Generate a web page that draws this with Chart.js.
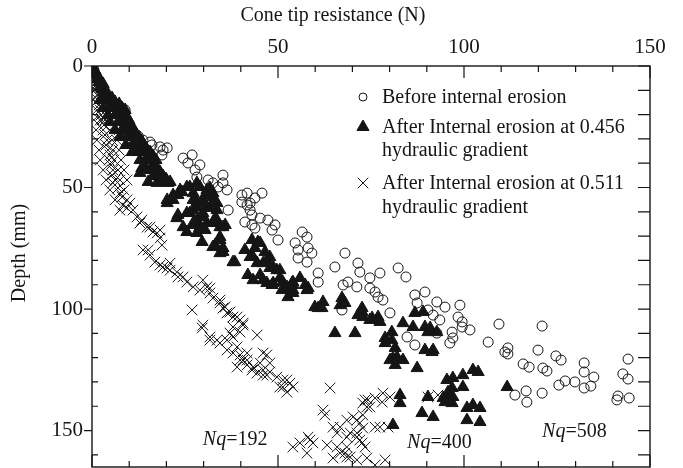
<!DOCTYPE html>
<html>
<head>
<meta charset="utf-8">
<script src="https://cdn.jsdelivr.net/npm/chart.js@4/dist/chart.umd.min.js"></script>
<style>
html,body{margin:0;padding:0;background:#fff;}
#c{display:block;}
</style>
</head>
<body>
<canvas id="c" width="683" height="468"></canvas>
<script>
// ---------- data (x = cone tip resistance N, y = depth mm) ----------
const beforeX = [0.5,1.1,1.9,2.7,3.8,4.8,6.2,7.5,8.9,9.4,10.8,12.4,13.7,15.6,16.1,18.3,19.1,18.8,20.2,24.5,26.9,25.8,27.7,29.0,28.2,31.2,32.5,35.2,33.9,35.2,36.3,40.3,41.7,45.7,40.3,42.5,43.8,36.6,41.7,42.5,41.1,43.0,45.2,43.0,43.8,47.3,49.2,48.4,50.0,56.5,57.8,54.6,55.4,58.1,59.1,55.4,57.8,68.0,65.3,71.5,72.0,60.8,60.8,67.5,68.8,71.2,74.7,77.4,74.7,76.1,76.9,78.2,67.2,80.1,82.3,84.4,86.8,89.5,87.4,90.3,92.7,94.9,91.7,93.5,98.9,98.4,99.5,99.5,101.6,92.7,96.8,97.0,96.2,84.7,86.8,106.5,109.4,111.8,111.0,111.8,121.0,119.9,115.9,117.5,121.2,122.3,124.7,126.1,132.3,132.3,134.9,129.8,127.2,125.5,132.3,134.1,116.7,113.7,116.9,121.0,142.7,144.1,144.1,141.4,141.1,144.4];
const beforeY = [1.6,3.7,6.6,9.9,12.3,14.0,15.6,16.9,18.1,24.3,26.3,28.8,30.5,31.3,32.5,33.3,34.6,36.6,33.7,37.9,36.6,39.9,42.8,40.7,45.7,46.9,48.1,44.9,49.8,48.1,51.0,53.1,52.3,52.3,56.0,56.4,54.3,59.3,57.2,59.3,64.2,61.3,62.6,65.4,66.7,63.4,65.4,67.5,71.6,68.3,70.4,72.8,75.7,74.9,77.0,79.0,80.7,77.0,82.7,81.1,84.8,85.2,88.9,90.1,88.9,90.9,87.2,85.2,91.4,93.0,95.1,96.3,100.4,101.6,83.1,86.8,94.2,93.0,97.5,100.4,97.1,99.2,102.5,104.5,98.4,103.3,105.3,107.4,108.6,109.9,109.5,111.9,114.0,111.5,114.8,113.6,106.2,116.0,117.7,118.5,107.0,116.9,122.6,123.9,124.3,125.5,119.3,121.0,122.2,125.9,128.0,130.0,129.6,131.3,132.5,131.7,133.7,135.4,138.3,134.6,126.7,128.8,120.6,135.8,137.4,136.6];

const grad456X = [0.3,0.5,0.8,1.1,1.3,1.9,2.2,2.7,3.2,3.5,4.0,4.6,5.1,5.6,6.5,7.0,7.5,8.1,8.6,9.1,9.7,10.2,10.8,11.3,11.8,12.6,13.4,14.2,15.1,15.9,16.7,17.5,18.3,19.1,19.9,21.0,1.9,3.0,4.3,5.4,6.2,7.3,8.1,8.9,9.4,9.9,10.5,11.0,9.7,11.8,12.6,12.1,13.7,14.5,15.6,16.4,17.2,13.4,12.9,15.6,18.3,20.4,15.1,17.5,20.2,23.1,21.8,20.2,21.8,20.2,25.5,24.2,26.3,28.2,29.0,30.9,32.5,29.8,23.7,27.2,31.7,32.5,33.6,29.8,28.2,27.2,29.8,25.5,24.5,27.2,29.0,30.9,33.1,35.8,34.4,33.1,35.2,34.4,38.4,41.1,43.0,44.6,43.8,43.3,46.5,47.8,46.0,41.9,45.2,47.8,49.7,50.5,54.0,55.9,57.3,58.1,48.7,47.0,23.1,27.2,30.4,26.3,28.2,25.5,28.2,30.4,33.6,35.2,29.6,32.5,34.4,35.2,37.9,31.7,22.8,27.2,28.2,30.9,32.5,33.6,29.8,32.5,34.4,45.2,42.5,44.4,47.0,48.7,43.3,46.0,48.4,51.1,52.4,54.0,52.7,54.0,57.8,59.9,60.8,50.5,51.3,53.8,54.0,62.1,61.8,67.2,66.7,68.0,72.6,72.8,74.7,76.9,77.4,80.6,83.6,86.3,86.8,89.0,89.5,90.3,65.3,70.7,92.7,72.6,71.5,75.3,78.8,80.6,78.8,81.5,80.9,90.9,91.4,87.4,82.8,82.8,95.4,97.0,99.7,102.4,103.8,99.7,95.7,97.0,94.4,90.3,88.7,91.7,80.9,100.8,102.4,104.3,100.8,104.3,111.6,80.1,82.0,83.6,81.5,89.5,91.7,96.8,96.2,96.8,94.9,4.3,6.2,4.8,7.0,6.2,8.1,7.5,9.4,9.1,10.8,10.8,12.4,12.9,14.5,14.5,16.1,16.4,17.7,3.0,4.8,2.2,3.5];
const grad456Y = [0.4,1.6,2.9,4.1,5.3,6.6,8.2,9.5,10.7,11.9,13.2,14.0,15.2,16.5,17.3,18.5,19.8,21.0,22.2,23.5,24.7,26.3,27.6,29.2,30.5,31.7,33.7,35.4,37.0,38.7,40.3,42.0,43.6,45.3,46.5,47.7,4.9,7.4,11.5,13.2,14.8,15.6,17.3,18.1,21.0,22.2,24.3,25.5,26.7,28.0,29.2,32.5,31.7,33.7,35.4,37.0,38.7,42.0,44.0,42.8,45.7,48.1,47.7,48.1,47.7,53.1,55.1,56.4,53.1,55.1,49.8,51.9,49.8,48.1,49.8,51.0,52.3,55.1,51.0,52.3,50.2,53.9,56.4,56.4,56.0,59.3,60.5,60.5,66.3,64.6,66.3,64.6,62.6,65.4,70.4,73.7,74.9,77.0,80.7,75.7,71.6,72.4,74.9,78.6,76.5,78.6,81.1,86.0,86.0,83.1,84.0,87.2,90.1,87.2,90.1,91.4,89.3,89.3,61.3,55.1,53.1,60.5,63.4,68.3,68.7,67.5,63.4,66.3,72.4,74.5,71.6,76.5,80.7,58.4,62.6,65.4,58.0,58.0,56.4,59.3,62.1,64.6,66.3,72.8,78.6,81.1,79.8,82.7,88.1,88.1,90.1,92.2,90.9,88.9,95.1,93.4,92.2,99.2,99.6,84.0,88.9,89.3,92.2,97.1,99.6,95.5,98.4,97.5,99.6,103.3,104.5,103.3,105.3,109.5,105.8,107.4,101.6,101.2,107.4,109.5,109.9,109.9,109.5,101.2,102.5,103.7,111.9,112.8,114.0,116.0,120.2,107.8,117.7,124.3,135.4,138.7,129.2,128.4,127.2,125.1,125.9,132.1,134.2,136.2,136.6,136.2,142.8,144.4,147.7,140.7,139.5,140.7,145.7,146.5,132.1,121.0,119.8,121.0,123.0,116.9,116.9,132.5,136.2,138.7,138.3,20.2,20.2,23.0,23.0,26.3,26.3,29.2,29.2,32.5,32.5,35.4,35.4,38.7,38.7,42.0,42.0,45.3,45.3,17.3,17.3,14.0,14.0];

const grad511X = [0.0,0.3,0.5,0.8,1.1,0.8,1.3,1.6,1.9,2.2,2.4,2.7,3.2,3.0,3.5,4.0,3.8,4.3,4.8,4.6,5.1,5.6,5.4,6.2,5.6,7.0,7.5,8.1,9.4,8.3,9.4,11.0,12.1,13.4,12.9,14.8,15.6,16.4,17.5,18.3,18.3,18.8,13.7,15.1,15.6,16.9,18.3,19.1,20.2,21.0,21.0,22.8,23.1,24.5,25.5,27.2,29.0,29.8,30.9,31.7,31.7,32.5,34.4,34.4,35.2,35.8,36.3,37.1,37.9,39.0,39.8,40.6,40.6,37.9,37.1,26.9,29.8,29.6,31.7,31.7,33.6,34.4,36.3,36.3,37.9,37.9,39.0,39.8,39.8,39.8,40.6,41.7,41.7,41.7,39.0,43.0,43.3,44.4,44.4,45.2,46.0,46.0,46.0,47.0,47.0,47.8,47.8,49.7,50.5,51.3,51.3,52.4,53.2,54.0,52.4,64.0,62.1,62.6,64.8,65.9,66.7,68.5,70.2,71.2,72.0,72.8,72.8,73.4,73.9,72.8,74.2,74.7,78.2,80.1,76.1,78.0,77.4,79.6,76.1,71.2,69.4,71.2,68.5,68.5,65.9,63.2,66.7,68.5,71.2,64.8,72.6,73.4,72.0,54.0,55.9,58.1,58.6,59.4,57.8,68.0,69.4,73.9,90.3,93.0,78.8,76.1,0.5,2.2,3.5,1.1,4.8,1.3,5.4,6.7,1.9,5.6,7.3,2.2,5.9,7.8,3.0,7.0,8.6,3.8,7.5,9.4,4.8,8.6,6.2,10.2,7.5,0.3,1.3,0.5];
const grad511Y = [0.8,2.5,4.1,5.8,7.8,9.9,11.9,14.0,16.0,18.1,20.2,22.2,24.3,26.3,28.4,30.5,32.5,34.6,36.6,38.7,40.7,42.8,44.9,46.9,48.1,50.2,52.3,53.9,55.1,57.2,58.4,59.3,62.1,63.4,64.6,66.3,66.3,68.3,68.7,67.5,70.8,73.7,75.7,75.7,77.8,80.7,81.9,82.7,83.1,81.1,84.0,84.8,86.8,86.8,88.9,90.9,92.2,88.1,90.9,91.4,93.4,95.5,96.3,97.5,99.6,99.2,101.6,101.2,103.3,103.3,104.5,105.8,106.6,107.4,109.9,100.4,106.6,107.8,111.5,112.8,112.8,114.0,112.8,116.9,111.5,118.1,115.6,109.5,118.9,121.0,121.0,118.1,121.0,123.0,123.9,125.1,123.9,110.7,126.3,122.2,118.1,127.2,125.1,118.9,127.2,122.2,125.9,128.0,132.1,129.2,132.1,129.2,130.5,132.1,134.2,132.5,141.6,143.6,148.6,151.0,148.6,145.7,144.4,145.7,146.9,149.0,138.7,137.4,140.3,143.6,137.4,140.3,134.6,136.2,136.6,138.3,148.6,148.6,148.6,151.0,151.0,152.7,152.7,156.8,156.8,156.0,159.3,160.9,162.1,161.3,155.1,156.8,153.9,156.8,155.1,152.7,153.9,155.1,159.3,159.3,160.9,161.3,136.2,135.4,162.1,164.2,22.2,22.2,22.2,26.3,26.3,30.5,30.5,30.5,34.6,34.6,34.6,38.7,38.7,38.7,42.8,42.8,42.8,46.9,46.9,46.9,51.0,51.0,55.1,56.4,59.3,14.0,18.1,10.0];

const seriesNames = ['Before internal erosion', 'After Internal erosion at 0.456 hydraulic gradient', 'After Internal erosion at 0.511 hydraulic gradient'];
const legendLines = [['Before internal erosion'], ['After Internal erosion at 0.456', 'hydraulic gradient'], ['After Internal erosion at 0.511', 'hydraulic gradient']];
const xMajorTicks = [0, 50, 100, 150];
const xMinorTicks = [10, 20, 30, 40, 60, 70, 80, 90, 110, 120, 130, 140];
const yMajorTicks = [0, 50, 100, 150];
const yMinorTicks = [10, 20, 30, 40, 60, 70, 80, 90, 110, 120, 130, 140, 160];
const nqLabels = ['192', '400', '508'];
const nqAnchorX = [29.8, 84.7, 121.0];
const nqAnchorY = [153.9, 155.1, 150.6];

const FONT = '"Liberation Serif", "Times New Roman", serif';
const INK = '#151515';

function pts(xs, ys) { return xs.map((x, i) => ({x: x, y: ys[i]})); }

// keep the plot frame at the exact bottom of the picture
const fitPlugin = {
  id: 'fitArea',
  afterLayout(chart) {
    const want = chart.height - 1;
    const a = chart.chartArea;
    if (Math.abs(a.bottom - want) > 0.5) {
      a.bottom = want; a.height = a.bottom - a.top;
      const y = chart.scales.y;
      y.bottom = want; y.height = want - y.top;
      y.configure();
    }
  }
};

const framePlugin = {
  id: 'frame',
  afterDatasetsDraw(chart) {
    const ctx = chart.ctx, a = chart.chartArea;
    const xs = chart.scales.x, ys = chart.scales.y;
    ctx.save();
    ctx.strokeStyle = INK;
    ctx.lineWidth = 1.4;
    ctx.strokeRect(a.left, a.top, a.right - a.left, a.bottom - a.top);
    ctx.lineWidth = 1.2;
    ctx.beginPath();
    const tx = (v, len) => {
      const p = xs.getPixelForValue(v);
      ctx.moveTo(p, a.top); ctx.lineTo(p, a.top + len);
      ctx.moveTo(p, a.bottom); ctx.lineTo(p, a.bottom - len);
    };
    xMajorTicks.forEach(v => tx(v, 12));
    xMinorTicks.forEach(v => tx(v, 6));
    const ty = (v, lenIn, lenOut, rightLen) => {
      const p = ys.getPixelForValue(v);
      ctx.moveTo(a.left - lenOut, p); ctx.lineTo(a.left + lenIn, p);
      ctx.moveTo(a.right, p); ctx.lineTo(a.right - rightLen, p);
    };
    yMajorTicks.forEach(v => ty(v, 0, 8, 12));
    yMinorTicks.forEach(v => ty(v, 6, 0, 12));
    ctx.stroke();

    // Nq annotations
    ctx.fillStyle = INK;
    ctx.textBaseline = 'middle';
    ctx.textAlign = 'left';
    nqLabels.forEach((t, i) => {
      const px = xs.getPixelForValue(nqAnchorX[i]);
      const py = ys.getPixelForValue(nqAnchorY[i]);
      ctx.font = 'italic 20px ' + FONT;
      ctx.fillText('Nq', px, py);
      const w = ctx.measureText('Nq').width;
      ctx.font = '20px ' + FONT;
      ctx.fillText('=' + t, px + w, py);
    });

    // legend
    const lx = 363, tx0 = 382;
    const rows = [[97], [127, 150], [183, 207]];
    const styles = chart.data.datasets;
    ctx.font = '20px ' + FONT;
    legendLines.forEach((lines, i) => {
      lines.forEach((ln, j) => ctx.fillText(ln, tx0, rows[i][j] + 1));
      const ds = styles[i];
      const opts = {pointStyle: ds.pointStyle, radius: ds.legendRadius, borderWidth: ds.borderWidth, rotation: 0};
      ctx.strokeStyle = ds.borderColor; ctx.fillStyle = ds.backgroundColor; ctx.lineWidth = ds.borderWidth;
      if (Chart.helpers && Chart.helpers.drawPoint) {
        Chart.helpers.drawPoint(ctx, opts, lx, rows[i][0]);
      }
      ctx.fillStyle = INK;
    });

    // axis titles
    ctx.fillStyle = INK;
    ctx.font = '20px ' + FONT;
    ctx.textAlign = 'center';
    ctx.fillText('Cone tip resistance (N)', 333, 16);
    ctx.save();
    ctx.translate(20, 253);
    ctx.rotate(-Math.PI / 2);
    ctx.fillText('Depth (mm)', 0, 0);
    ctx.restore();
    ctx.restore();
  }
};

new Chart(document.getElementById('c'), {
  type: 'scatter',
  data: {
    datasets: [
      {label: seriesNames[0], data: pts(beforeX, beforeY), pointStyle: 'circle', pointRadius: 5, legendRadius: 4,
       borderColor: INK, backgroundColor: 'rgba(0,0,0,0)', borderWidth: 1, order: 3},
      {label: seriesNames[1], data: pts(grad456X, grad456Y), pointStyle: 'triangle', pointRadius: 7, legendRadius: 7,
       borderColor: INK, backgroundColor: INK, borderWidth: 1, order: 2},
      {label: seriesNames[2], data: pts(grad511X, grad511Y), pointStyle: 'crossRot', pointRadius: 7.5, legendRadius: 7.5,
       borderColor: '#181818', backgroundColor: '#181818', borderWidth: 1, order: 1}
    ]
  },
  options: {
    responsive: false,
    animation: false,
    devicePixelRatio: 1,
    layout: {padding: {left: 0, top: 0, right: 33, bottom: 1}},
    plugins: {legend: {display: false}, tooltip: {enabled: false}},
    scales: {
      x: {
        type: 'linear', position: 'top', min: 0, max: 150,
        grid: {display: false, drawTicks: false}, border: {display: false},
        afterBuildTicks: s => { s.ticks = xMajorTicks.map(v => ({value: v})); },
        afterFit: s => { s.height = 66; s.paddingLeft = 0; s.paddingRight = 0; },
        ticks: {font: {family: FONT, size: 21}, color: INK, padding: 6, maxRotation: 0, autoSkip: false}
      },
      y: {
        type: 'linear', position: 'left', reverse: true, min: 0, max: 165,
        grid: {display: false, drawTicks: false}, border: {display: false},
        afterBuildTicks: s => { s.ticks = yMajorTicks.map(v => ({value: v})); },
        afterFit: s => { s.width = 92; s.paddingTop = 0; s.paddingBottom = 0; },
        ticks: {font: {family: FONT, size: 21}, color: INK, padding: 9, autoSkip: false}
      }
    }
  },
  plugins: [fitPlugin, framePlugin]
});
</script>
</body>
</html>
